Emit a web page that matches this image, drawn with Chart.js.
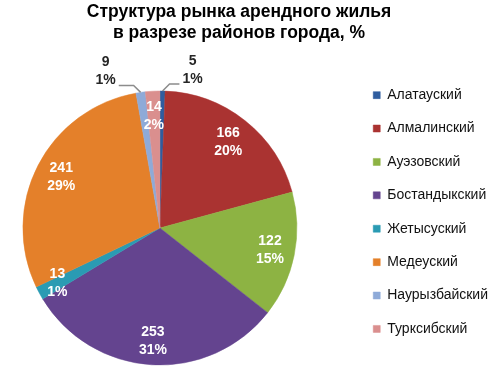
<!DOCTYPE html>
<html>
<head>
<meta charset="utf-8">
<script src="https://cdn.jsdelivr.net/npm/chart.js@4.4.1/dist/chart.umd.min.js"></script>
<style>
  html, body { margin: 0; padding: 0; background: #fff; }
  #wrap { width: 500px; height: 377px; }
</style>
</head>
<body>
<div id="wrap"><canvas id="chart"></canvas></div>
<script>
const districts = ['Алатауский', 'Алмалинский', 'Ауэзовский', 'Бостандыкский',
  'Жетысуский', 'Медеуский', 'Наурызбайский', 'Турксибский'];
const listings = [5, 166, 122, 253, 13, 241, 9, 14];
const shares = ['1%', '20%', '15%', '31%', '1%', '29%', '1%', '2%'];
const titleLines = ['Структура рынка арендного жилья', 'в разрезе районов города, %'];

const sliceColors = ['#2f5d9f', '#aa3331', '#8db343', '#64448f',
  '#2a9bb3', '#e4802a', '#8eaad8', '#da8f8e'];

// where each label goes: inside at a share of the radius, or outside with a leader line
const labelPlace = [
  { out: true, dx: 30, dy: -21 },
  { r: 0.8 }, { r: 0.82 }, { r: 0.83 }, { r: 0.85 }, { r: 0.81 },
  { out: true, dx: -35, dy: -21 },
  { r: 0.82 }
];

const FONT = '"Liberation Sans", Arial, sans-serif';

const pieLabels = {
  id: 'pieLabels',
  afterDatasetsDraw(chart) {
    const ctx = chart.ctx;
    const meta = chart.getDatasetMeta(0);
    ctx.save();
    ctx.font = 'bold 14px ' + FONT;
    ctx.textAlign = 'center';
    ctx.textBaseline = 'middle';
    meta.data.forEach((arc, i) => {
      const p = arc.getProps(['x', 'y', 'startAngle', 'endAngle', 'outerRadius'], true);
      const mid = (p.startAngle + p.endAngle) / 2;
      const place = labelPlace[i];
      let lx, ly;
      if (place.out) {
        const ax = p.x + Math.cos(mid) * p.outerRadius;
        const ay = p.y + Math.sin(mid) * p.outerRadius;
        lx = ax + place.dx;
        ly = ay + place.dy;
        const side = Math.sign(place.dx);
        const w = Math.max(ctx.measureText(String(listings[i])).width, ctx.measureText(shares[i]).width);
        const kx = ax + side * 7, ky = ay - 7;
        ctx.strokeStyle = '#8c8c8c';
        ctx.lineWidth = 1.5;
        ctx.beginPath();
        ctx.moveTo(ax, ay);
        ctx.lineTo(kx, ky);
        ctx.lineTo(lx - side * (w / 2 + 3), ky);
        ctx.stroke();
        ctx.fillStyle = '#262626';
      } else {
        lx = p.x + Math.cos(mid) * p.outerRadius * place.r;
        ly = p.y + Math.sin(mid) * p.outerRadius * place.r;
        ctx.fillStyle = '#ffffff';
      }
      ctx.fillText(String(listings[i]), lx, ly - 9);
      ctx.fillText(shares[i], lx, ly + 9);
    });
    ctx.restore();
  }
};

// the original pie sits further left and the legend column a little higher
const layoutTweak = {
  id: 'layoutTweak',
  afterLayout(chart) {
    const area = chart.chartArea;
    area.left -= 36;
    area.width = area.right - area.left;
    chart.legend.top -= 16;
    chart.legend.bottom -= 16;
    chart.legend.left -= 2;
    chart.legend.right -= 2;
  }
};

new Chart(document.getElementById('chart'), {
  type: 'pie',
  data: {
    labels: districts,
    datasets: [{
      data: listings,
      backgroundColor: sliceColors,
      borderColor: sliceColors,
      borderWidth: 0.5,
      radius: 137
    }]
  },
  options: {
    responsive: true,
    maintainAspectRatio: false,
    animation: false,
    layout: { padding: { left: -22, right: 0, top: 0, bottom: 0 } },
    plugins: {
      title: {
        display: true,
        text: titleLines,
        color: '#000',
        font: { family: FONT, size: 17.5, weight: 'bold', lineHeight: 1.23 },
        padding: { top: 1, bottom: 35 }
      },
      legend: {
        position: 'right',
        fullSize: false,
        labels: {
          color: '#111',
          font: { family: FONT, size: 14 },
          boxWidth: 7,
          boxHeight: 7,
          padding: 19.4
        }
      },
      tooltip: { enabled: false }
    }
  },
  plugins: [pieLabels, layoutTweak]
});
</script>
</body>
</html>
